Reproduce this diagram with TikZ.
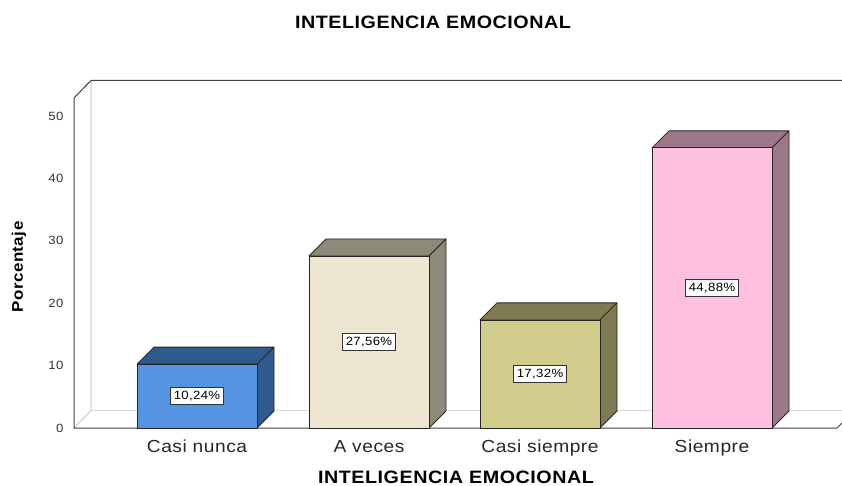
\documentclass[tikz,border=0pt]{standalone}
\usepackage{fontspec}
\setmainfont{Liberation Sans}[FakeStretch=1.1,LetterSpace=3]
\definecolor{nuncaF}{RGB}{85,148,226}
\definecolor{nuncaS}{RGB}{47,90,142}
\definecolor{vecesF}{RGB}{237,229,207}
\definecolor{vecesS}{RGB}{142,138,122}
\definecolor{casiF}{RGB}{209,203,140}
\definecolor{casiS}{RGB}{126,122,82}
\definecolor{siempreF}{RGB}{255,192,224}
\definecolor{siempreS}{RGB}{156,120,136}
\begin{document}
\begin{tikzpicture}[x=1bp,y=-1bp,
	every node/.style={font=\fontsize{12}{14}\selectfont,text=black!80},
	face/.style={draw=black!85,line width=0.8bp,line join=round},
	pct/.style={draw=black!80,fill=white,line width=0.6bp,inner xsep=3.5bp,inner ysep=3.5bp,text=black},
	cat/.style={anchor=base,font=\fontsize{17.5}{20}\selectfont,text=black!85},
	heading/.style={anchor=base,font=\bfseries\fontsize{18}{21}\selectfont,text=black}]
	\useasboundingbox (0,0) rectangle (842,486);
	% walls
	\draw[black!18,line width=1.2bp] (74,428) -- (91,410.5) -- (91,80.5);
	\draw[black!15,line width=1.2bp] (91,410.5) -- (842,410.5);
	\draw[black!75,line width=1bp] (842,80.5) -- (91,80.5) -- (74,98) -- (74,428) -- (837,428) -- (842,423);
	% bars
	\filldraw[face,fill=nuncaS] (137,364.1) -- (154,347.1) -- (274,347.1) -- (257,364.1) -- cycle;
	\filldraw[face,fill=nuncaS] (257,428) -- (274,411) -- (274,347.1) -- (257,364.1) -- cycle;
	\filldraw[face,fill=nuncaF] (137,428) rectangle (257,364.1);
	\filldraw[face,fill=vecesS] (309,256) -- (326,239) -- (446,239) -- (429,256) -- cycle;
	\filldraw[face,fill=vecesS] (429,428) -- (446,411) -- (446,239) -- (429,256) -- cycle;
	\filldraw[face,fill=vecesF] (309,428) rectangle (429,256);
	\filldraw[face,fill=casiS] (480,319.9) -- (497,302.9) -- (617,302.9) -- (600,319.9) -- cycle;
	\filldraw[face,fill=casiS] (600,428) -- (617,411) -- (617,302.9) -- (600,319.9) -- cycle;
	\filldraw[face,fill=casiF] (480,428) rectangle (600,319.9);
	\filldraw[face,fill=siempreS] (652,147.9) -- (669,130.9) -- (789,130.9) -- (772,147.9) -- cycle;
	\filldraw[face,fill=siempreS] (772,428) -- (789,411) -- (789,130.9) -- (772,147.9) -- cycle;
	\filldraw[face,fill=siempreF] (652,428) rectangle (772,147.9);
	% values
	\node[pct] (nunca) at (197,396) {10,24\%};
	\node[pct] (veces) at (369,342) {27,56\%};
	\node[pct] (casi) at (540,374) {17,32\%};
	\node[pct] (siempre) at (712,288) {44,88\%};
	% axis texts
	\node[anchor=east] (t0) at (67,428) {0};
	\node[anchor=east] (t10) at (67,365.6) {10};
	\node[anchor=east] (t20) at (67,303.2) {20};
	\node[anchor=east] (t30) at (67,240.8) {30};
	\node[anchor=east] (t40) at (67,178.4) {40};
	\node[anchor=east] (t50) at (67,116) {50};
	\node[rotate=90,font=\bfseries\fontsize{15.5}{18}\selectfont,text=black] (ylab) at (19,267) {Porcentaje};
	\node[cat] (nuncaL) at (197,452) {Casi nunca};
	\node[cat] (vecesL) at (369,452) {A veces};
	\node[cat] (casiL) at (540,452) {Casi siempre};
	\node[cat] (siempreL) at (712,452) {Siempre};
	\node[heading] (title) at (433,29) {INTELIGENCIA EMOCIONAL};
	\node[heading] (xlab) at (456,483.5) {INTELIGENCIA EMOCIONAL};
\end{tikzpicture}
\end{document}
